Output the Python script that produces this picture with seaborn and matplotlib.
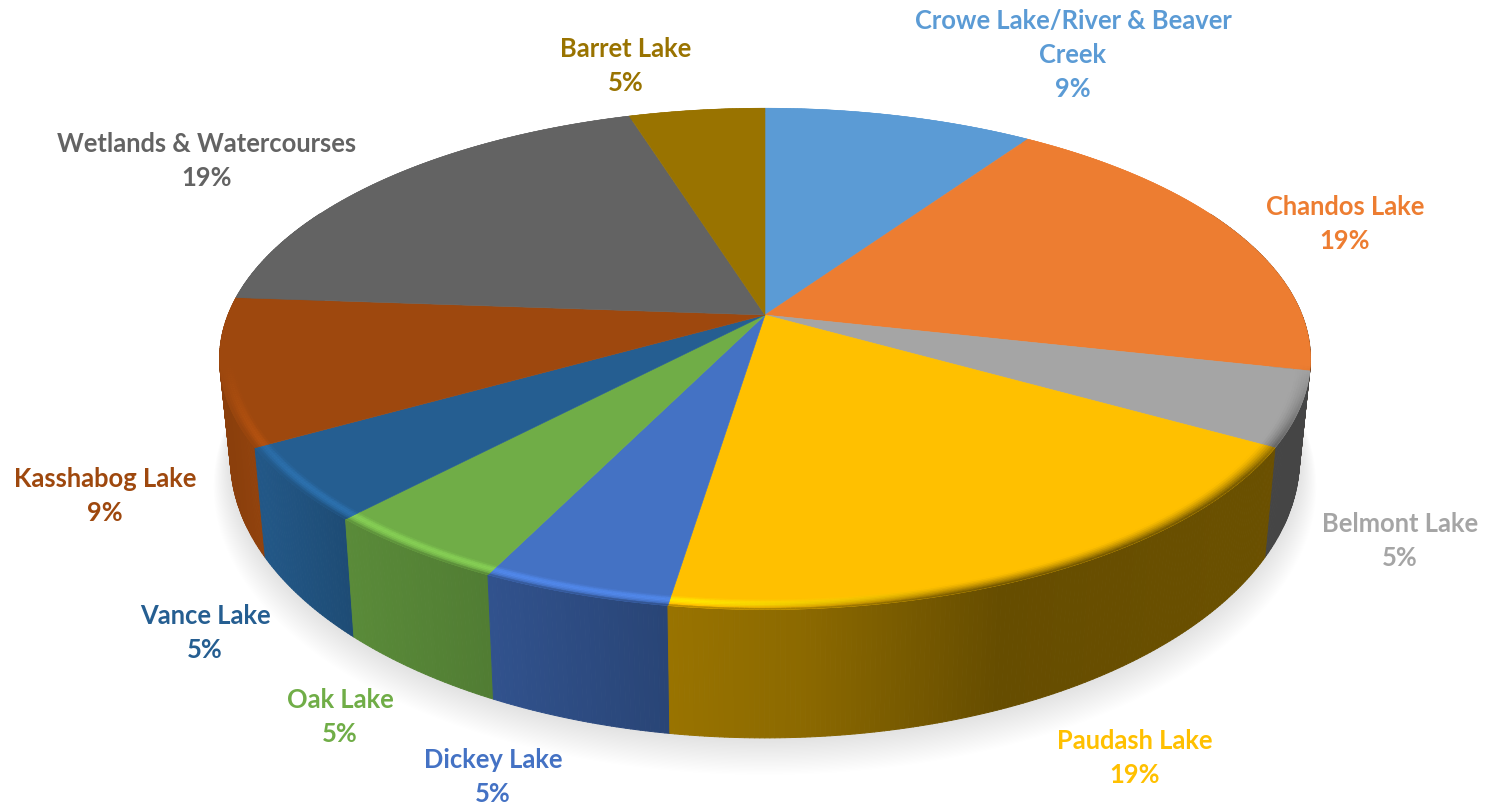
import numpy as np
import seaborn as sns
import matplotlib.pyplot as plt
from matplotlib.collections import PolyCollection

lakes = ["Crowe Lake/River & Beaver\nCreek", "Chandos Lake", "Belmont Lake", "Paudash Lake", "Dickey Lake",
         "Oak Lake", "Vance Lake", "Kasshabog Lake", "Wetlands & Watercourses", "Barret Lake"]
shares = [9.45, 19.05, 4.76, 19.05, 4.76, 4.76, 4.76, 9.45, 19.05, 4.76]
percent_labels = [9, 19, 5, 19, 5, 5, 5, 9, 19, 5]
hex_colors = ["#5B9BD5", "#ED7D31", "#A5A5A5", "#FFC000", "#4472C4",
              "#70AD47", "#255E91", "#9E480E", "#636363", "#997300"]
label_x = [1073, 1345, 1400, 1135, 493, 340, 205, 105, 207, 626]
label_y = [55, 224, 541, 758, 777, 717, 633, 496, 161, 66]

sns.set_theme(style="white")
plt.rcParams["font.family"] = ["Lato", "DejaVu Sans"]
palette = np.array(sns.color_palette(hex_colors))

# perspective of the pie top, in image pixels
CX, CY = 765, 315
A, B, K = 537, 243, 0.175


def top(theta, r=1.0):
    x, y = r * np.sin(theta), r * np.cos(theta)
    d = 1 + K * y
    return CX + A * x / d, CY - B * y / d


def bottom(theta):
    x, y = top(theta)
    return CX + 0.98 * (x - CX), 560 + (y - 450) * 1.115


def wall_shade(x):
    return np.interp(x, [230, 260, 350, 490, 670, 800, 1000, 1300],
                     [.88, .93, .80, .72, .60, .55, .40, .42])


fig = plt.figure(figsize=(14.91, 8.09), dpi=100)
ax = fig.add_axes([0, 0, 1, 1])
ax.set_xlim(0, 1491)
ax.set_ylim(809, 0)
ax.axis("off")

edges = np.deg2rad(np.cumsum([0] + shares) / sum(shares) * 360)

# soft shadow under the disc
ring = np.linspace(0, 2 * np.pi, 361)
bx, by = bottom(ring)
for i in range(30):
    s = 1 + 0.0011 * i
    ax.fill(CX + (bx - CX) * s, 440 + (by - 440) * s + 0.95 * i, color="black", alpha=0.0048, lw=0, zorder=1)

# side wall, back to front
quads = []
for k, col in enumerate(palette):
    n = max(int(shares[k] * 8), 2)
    th = np.linspace(edges[k], edges[k + 1], n + 1)
    for a, b in zip(th[:-1], th[1:]):
        mid = (a + b) / 2
        if np.cos(mid) > 0.45:
            continue
        xa, ya = top(a)
        xb, yb = top(b)
        xc, yc = bottom(b)
        xd, yd = bottom(a)
        quads.append((np.cos(mid), [(xa, ya), (xb, yb), (xc, yc), (xd, yd)], col * wall_shade((xa + xb) / 2)))
quads.sort(key=lambda q: -q[0])
ax.add_collection(PolyCollection([q[1] for q in quads], facecolors=[q[2] for q in quads],
                                 edgecolors=[q[2] for q in quads], linewidths=0.7, zorder=2))

# top of the pie
for k, col in enumerate(palette):
    th = np.linspace(edges[k], edges[k + 1], 80)
    x, y = top(th)
    ax.fill(np.r_[CX, x], np.r_[CY, y], color=col, lw=0.4, zorder=3)

# bevel along the rim: light ridge on the left, soft dark blend on the right
rim_polys, rim_colors = [], []
radii = np.linspace(0.972, 1.0, 8)
for k, col in enumerate(palette):
    n = max(int(shares[k] * 8), 2)
    th = np.linspace(edges[k], edges[k + 1], n + 1)
    for a, b in zip(th[:-1], th[1:]):
        mid = (a + b) / 2
        front = np.clip((-0.2 - np.cos(mid)) / 0.4, 0, 1)
        for j, (r0, r1) in enumerate(zip(radii[:-1], radii[1:])):
            t = (j + 0.5) / (len(radii) - 1)
            xa, ya = top(a, r0)
            xb, yb = top(b, r0)
            xc, yc = top(b, r1)
            xd, yd = top(a, r1)
            wall = col * wall_shade(xa)
            light = np.clip(col * (1 + 0.2 * np.sin(np.pi * min(t / 0.8, 1))), 0, 1)
            if t > 0.8:
                light = light + (wall - light) * (t - 0.8) / 0.2
            dark = col + (wall - col) * t ** 1.5
            s = np.interp(xa, [700, 950], [1, 0])
            c = col + (s * light + (1 - s) * dark - col) * front
            rim_polys.append([(xa, ya), (xb, yb), (xc, yc), (xd, yd)])
            rim_colors.append(c)
ax.add_collection(PolyCollection(rim_polys, facecolors=rim_colors, edgecolors=rim_colors, linewidths=0.3, zorder=4))

# labels
for name, pct, col, lx, ly in zip(lakes, percent_labels, palette, label_x, label_y):
    ax.text(lx, ly, f"{name}\n{pct}%", color=col, fontsize=18.4, fontweight="bold",
            ha="center", va="center", linespacing=1.5, zorder=5)

fig.savefig("out.png", dpi=100, facecolor="white")
